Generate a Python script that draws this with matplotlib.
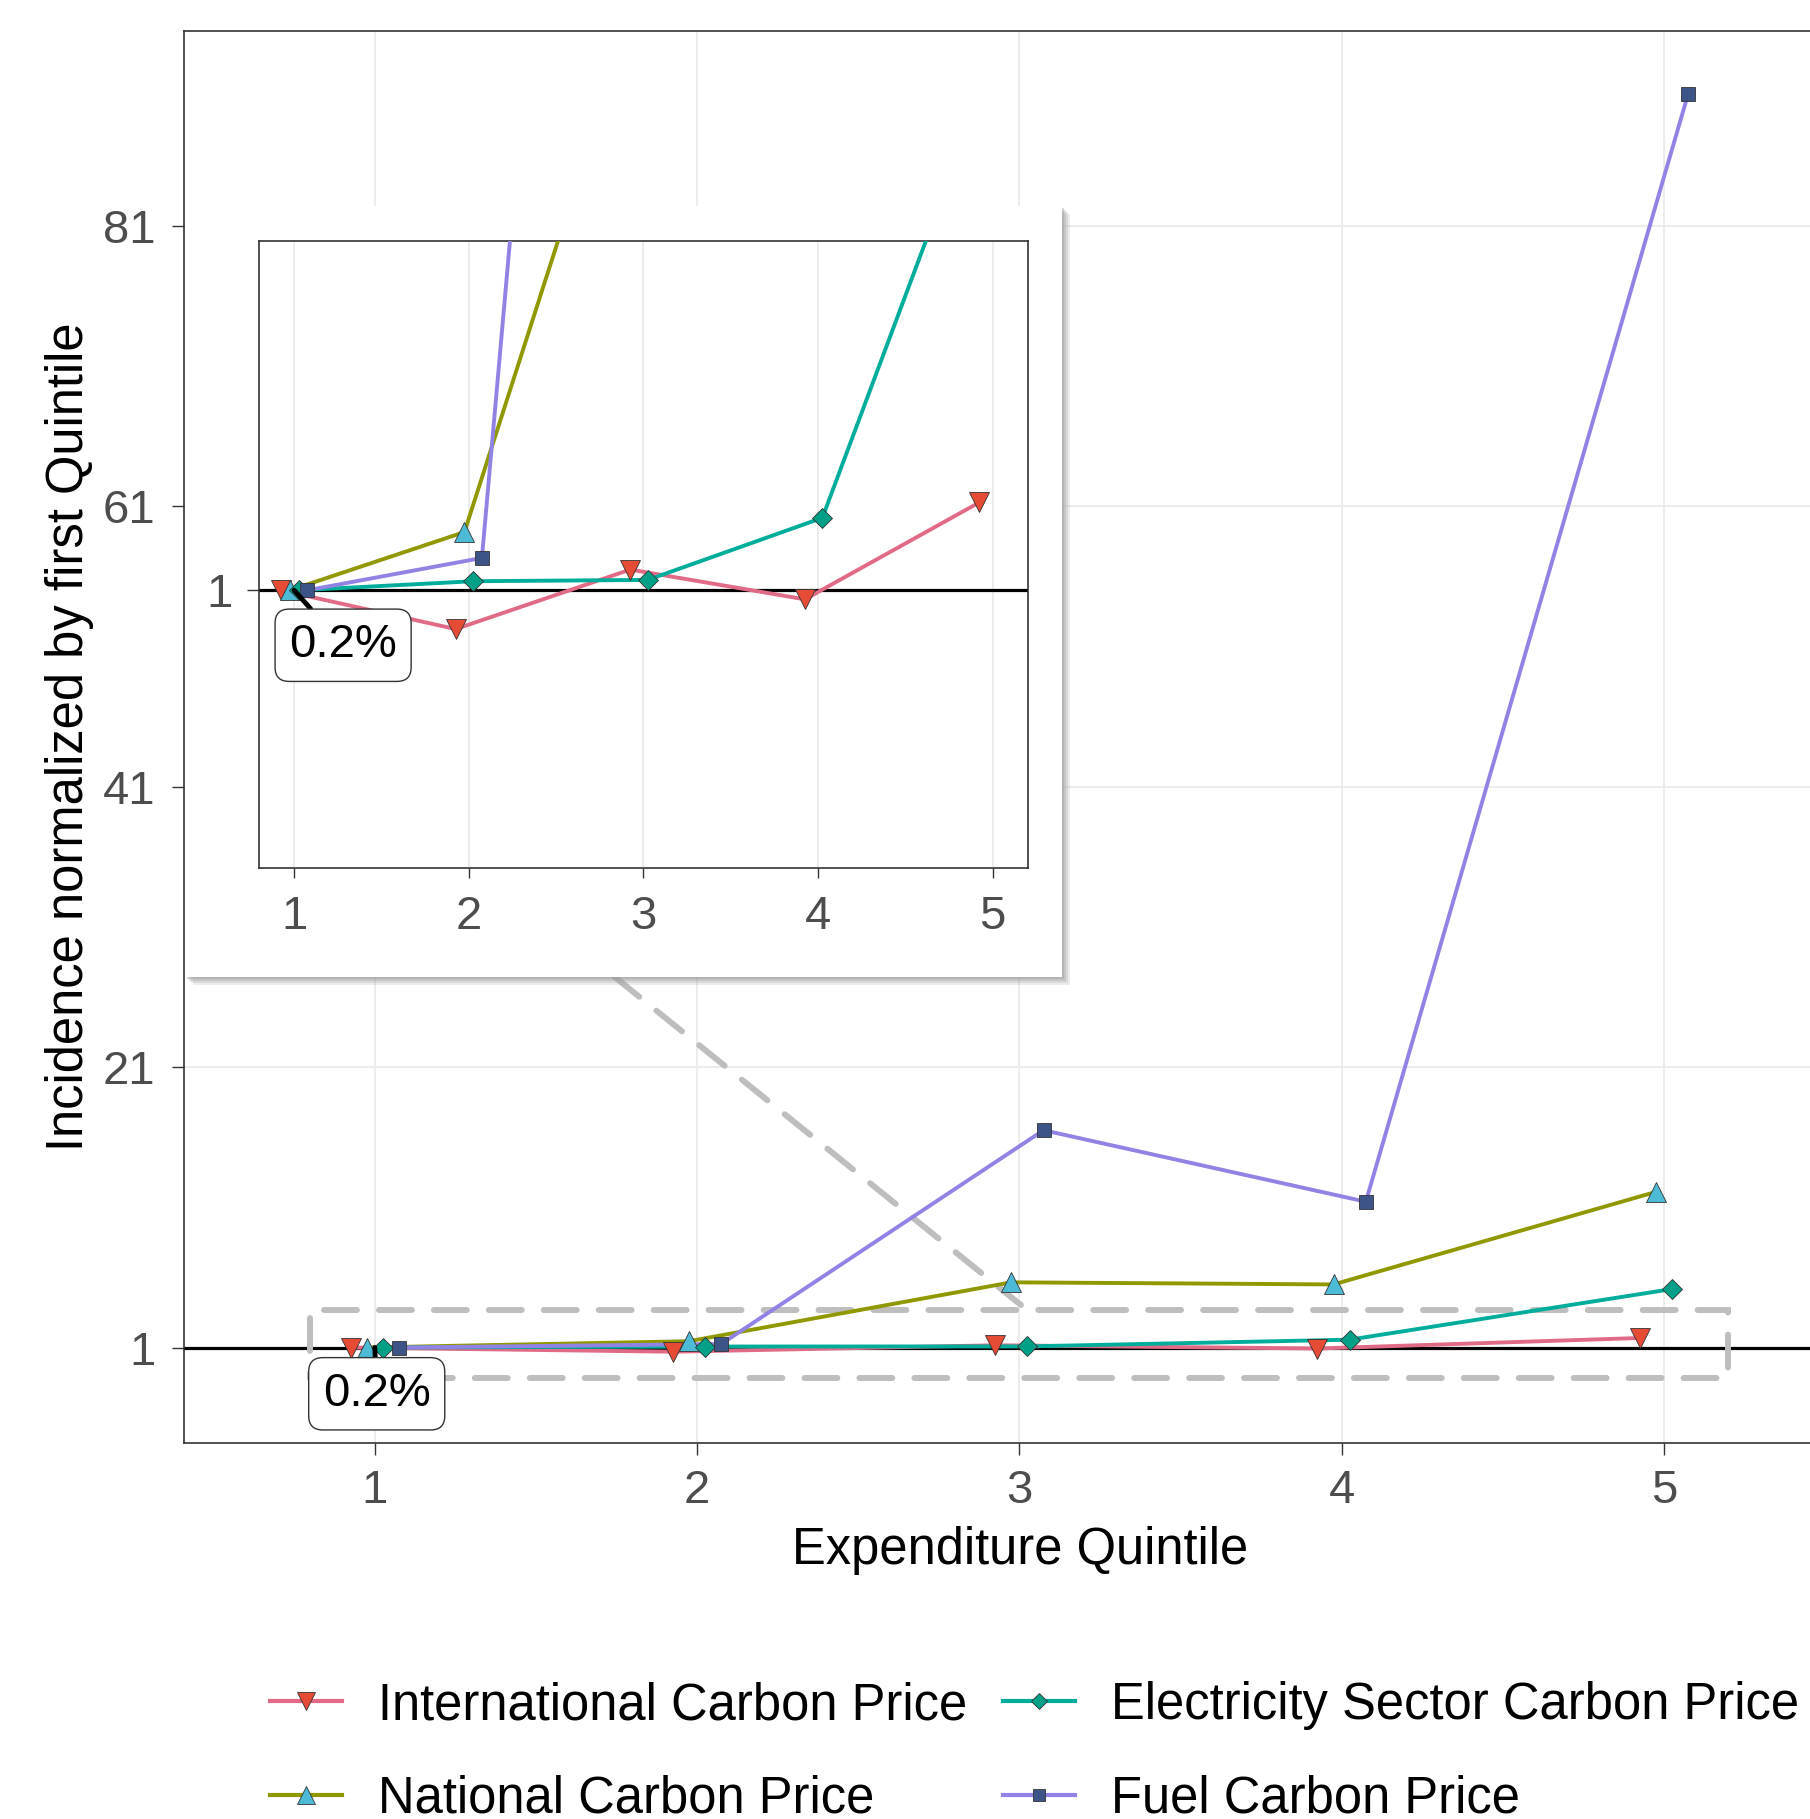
import matplotlib
matplotlib.use("Agg")
import matplotlib.pyplot as plt
from matplotlib.patches import Rectangle
from matplotlib.lines import Line2D

plt.rcParams['font.family'] = ['Liberation Sans', 'DejaVu Sans']

# data
quintiles = [1, 2, 3, 4, 5]
series_names = ["International Carbon Price", "National Carbon Price",
                "Electricity Sector Carbon Price", "Fuel Carbon Price"]
intl_vals = [1.0, 0.70, 1.16, 0.93, 1.68]
national_vals = [1.0, 1.45, 5.65, 5.5, 12.1]
elec_vals = [1.0, 1.07, 1.08, 1.56, 5.17]
fuel_vals = [1.0, 1.25, 16.5, 11.4, 90.4]
main_yticks = [1, 21, 41, 61, 81]
label_text = "0.2%"

all_vals = [intl_vals, national_vals, elec_vals, fuel_vals]
dodge = [-0.075, -0.025, 0.025, 0.075]
line_cols = ['#E16A86', '#909800', '#00AD9A', '#9183E6']
fill_cols = ['#E64B35', '#4DBBD5', '#00A087', '#3C5488']
markers = ['v', '^', 'D', 's']
msizes = [14.5, 14.5, 10, 10]

W, H = 1810, 1819
fig = plt.figure(figsize=(W / 100, H / 100), dpi=100)


def fx(px):
    return px / W


def fy(py):
    return 1 - py / H


def draw_series(ax):
    ax.axhline(1, color='black', lw=2.3, zorder=2)
    for vals, off, lc, fc, mk, ms, name in zip(all_vals, dodge, line_cols, fill_cols,
                                                markers, msizes, series_names):
        xs = [q + off for q in quintiles]
        ax.plot(xs, vals, color=lc, lw=2.8, zorder=3, label=name)
        ax.plot(xs, vals, ls='none', marker=mk, ms=ms, mfc=fc, mec='#333333',
                mew=0.6, zorder=4)


def style_axes(ax, fs):
    ax.set_facecolor('white')
    for s in ax.spines.values():
        s.set_color('#333333')
        s.set_linewidth(1.2)
    ax.grid(True, color='#EBEBEB', lw=1.3, zorder=0)
    ax.set_axisbelow(True)
    ax.tick_params(labelsize=fs, labelcolor='#4D4D4D', color='#333333',
                   length=8.6, width=1)


# main panel
ax = fig.add_axes([fx(184), fy(1443), fx(1856 - 184), (1443 - 30.6) / H])
style_axes(ax, 34)
ax.spines['right'].set_visible(False)
ax.set_xlim(0.408, 5.596)
ax.set_ylim(-5.81, 94.93)
ax.set_xticks(quintiles)
ax.set_yticks(main_yticks)
ax.tick_params(axis='y', pad=12)
ax.tick_params(axis='x', pad=10)
draw_series(ax)

# zoom box and connector
ins_ylim = (-1.15, 3.7)
rect = Rectangle((0.8, ins_ylim[0]), 4.4, ins_ylim[1] - ins_ylim[0], fill=False,
                 ec='#BEBEBE', lw=4.3, ls=(0, (5.5, 3.7)), capstyle='round', zorder=2.5)
ax.add_patch(rect)
ax.plot([1.078, 3.005], [39.8, 4.03], color='#BEBEBE', lw=4.3, ls=(0, (5.5, 3.7)),
        dash_capstyle='round', zorder=2.5)

ax.annotate(label_text, xy=(1.0, 1.0), xytext=(1.006, -2.3), fontsize=34,
            ha='center', va='center', zorder=5,
            bbox=dict(boxstyle='round,pad=0.3,rounding_size=0.3', fc='white',
                      ec='#333333', lw=1),
            arrowprops=dict(arrowstyle='-', color='black', lw=3.5, shrinkA=0, shrinkB=0))

# inset background with a soft shadow
for k, a in enumerate([0.18, 0.22, 0.3, 0.4]):
    off = 8 - 2 * k
    fig.patches.append(Rectangle((fx(184.5 + off), fy(977 + off)), fx(1061.7 - 184.5),
                                 (977 - 206) / H, transform=fig.transFigure,
                                 fc='#9A9A9A', ec='none', alpha=a, zorder=1))
fig.patches.append(Rectangle((fx(184.5), fy(977)), fx(1061.7 - 184.5), (977 - 206) / H,
                             transform=fig.transFigure, fc='white', ec='none', zorder=1.1))

# inset panel
axi = fig.add_axes([fx(259.3), fy(868.4), fx(1027.5 - 259.3), (868.4 - 241) / H], zorder=3)
style_axes(axi, 34)
axi.set_xlim(0.8, 5.2)
axi.set_ylim(*ins_ylim)
axi.set_xticks(quintiles)
axi.set_yticks([1])
axi.tick_params(axis='y', pad=10, length=9)
axi.tick_params(axis='x', pad=12, length=7)
draw_series(axi)
axi.annotate(label_text, xy=(1.0, 1.0), xytext=(1.28, 0.575), fontsize=34,
             ha='center', va='center', zorder=5,
             bbox=dict(boxstyle='round,pad=0.3,rounding_size=0.3', fc='white',
                       ec='#333333', lw=1),
             arrowprops=dict(arrowstyle='-', color='black', lw=3.5, shrinkA=0, shrinkB=0))

# axis titles
fig.text(fx(1020), fy(1550), "Expenditure Quintile", fontsize=36.5, ha='center', va='center')
fig.text(fx(70), fy(737), "Incidence normalized by first Quintile", fontsize=36.5,
         rotation=90, ha='center', va='center')

# legend
handles = [Line2D([], [], color=lc, lw=3, marker=mk, ms=ms * 0.85, mfc=fc,
                  mec='#333333', mew=0.6)
           for lc, fc, mk, ms in zip(line_cols, fill_cols, markers, msizes)]
fig.legend(handles, series_names, loc='upper left', bbox_to_anchor=(fx(270), fy(1681)),
           ncol=2, frameon=False, fontsize=36.5, handlelength=1.42, handletextpad=0.71,
           columnspacing=0.71, labelspacing=0.88, borderpad=0, borderaxespad=0)

fig.savefig("out.png", dpi=100)
